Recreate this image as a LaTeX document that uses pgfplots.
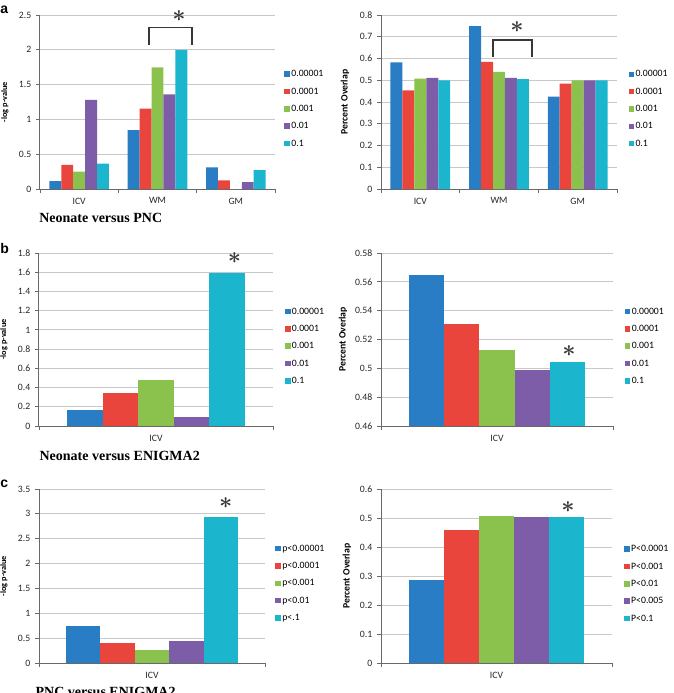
\documentclass[border=0pt]{standalone}
\usepackage{pgfplots}
\pgfplotsset{compat=1.18}
\usepackage{fontspec}
\setmainfont{Carlito}
\newfontfamily\titlefont{Liberation Serif}
\newfontfamily\letterfont{Liberation Sans}

\definecolor{cBlue}{RGB}{40,125,197}
\definecolor{cRed}{RGB}{233,69,60}
\definecolor{cGreen}{RGB}{139,194,78}
\definecolor{cPurple}{RGB}{126,93,168}
\definecolor{cCyan}{RGB}{27,182,205}
\definecolor{gridgray}{RGB}{200,200,200}
\definecolor{axisgray}{RGB}{105,105,105}
\definecolor{markgray}{RGB}{55,55,55}

\pgfplotsset{
  panel/.style={
    scale only axis, anchor=south west,
    axis x line*=bottom, axis y line*=left,
    axis line style={axisgray, line width=0.75pt},
    ymajorgrids, grid style={gridgray, line width=0.6pt},
    tick align=outside, major tick length=3pt,
    tick style={axisgray, line width=0.6pt},
    ticklabel style={font=\fontsize{7.3}{8}\selectfont, text=black!85},
    /pgf/number format/assume math mode=true,
    yticklabel style={/pgf/number format/fixed, /pgf/number format/precision=2},
    xticklabels={},
    extra x tick style={xtick style={draw=none}},
    enlargelimits=false,
    clip mode=individual,
    legend cell align=left,
    legend style={draw=none, fill=none, inner sep=0pt, anchor=west,
      font=\fontsize{7.3}{8}\selectfont, row sep=3pt,
      nodes={inner xsep=1pt, inner ysep=2pt, text height=5pt, text depth=1pt}},
  },
  pvalue/.style={ylabel={-log p-value},
    ylabel style={at={(axis description cs:#1,0.5)}, anchor=center,
      font=\fontsize{6.2}{7}\selectfont\bfseries}},
  overlap/.style={ylabel={Percent Overlap},
    ylabel style={at={(axis description cs:#1,0.5)}, anchor=center,
      font=\fontsize{7.3}{8}\selectfont\bfseries}},
  bars/.style={ybar, bar width=0.152, bar shift=0pt, draw=none, fill=#1,
    legend image code/.code={\fill[##1, draw=none] (0pt,-2.1pt) rectangle (4.2pt,2.1pt);}},
}

% significance asterisk above a bar
\newcommand{\signif}[1]{\node[markgray, inner sep=0pt, font=\fontsize{18}{18}\selectfont\boldmath] at (#1) {$\ast$};}

\begin{document}
\begin{tikzpicture}
\useasboundingbox (0pt,0pt) rectangle (505.5pt,-519.75pt);

% ---------------- a: Neonate versus PNC ----------------
\begin{axis}[panel, pvalue=-0.149,
  at={(30pt,-141.75pt)}, width=176.25pt, height=130.5pt,
  xmin=-0.5, xmax=2.5, ymin=0, ymax=2.5,
  ytick={0,0.5,1,1.5,2,2.5},
  xtick={-0.5,0.5,1.5,2.5},
  extra x ticks={0,1,2}, extra x tick labels={ICV,WM,GM},
  legend style={at={(1.039,0.46)}}]
\addplot[bars=cBlue]   coordinates {(-0.304,0.115) (0.696,0.845) (1.696,0.31)};
\addplot[bars=cRed]    coordinates {(-0.152,0.345) (0.848,1.156) (1.848,0.125)};
\addplot[bars=cGreen]  coordinates {(0,0.25) (1,1.747) (2,0)};
\addplot[bars=cPurple] coordinates {(0.152,1.28) (1.152,1.358) (2.152,0.10)};
\addplot[bars=cCyan]   coordinates {(0.304,0.365) (1.304,2.0) (2.304,0.27)};
\legend{0.00001,0.0001,0.001,0.01,0.1}
\draw[markgray, line width=1.3pt] (axis cs:0.891,2.07) |- (axis cs:1.437,2.32) -- (axis cs:1.437,2.07);
\signif{axis cs:1.274,2.48}
\end{axis}

\begin{axis}[panel, overlap=-0.153,
  at={(285.75pt,-141.75pt)}, width=177pt, height=130.5pt,
  xmin=-0.5, xmax=2.5, ymin=0, ymax=0.8,
  ytick={0,0.1,0.2,0.3,0.4,0.5,0.6,0.7,0.8},
  xtick={-0.5,0.5,1.5,2.5},
  extra x ticks={0,1,2}, extra x tick labels={ICV,WM,GM},
  legend style={at={(1.048,0.46)}}]
\addplot[bars=cBlue]   coordinates {(-0.304,0.582) (0.696,0.749) (1.696,0.425)};
\addplot[bars=cRed]    coordinates {(-0.152,0.454) (0.848,0.585) (1.848,0.485)};
\addplot[bars=cGreen]  coordinates {(0,0.508) (1,0.538) (2,0.500)};
\addplot[bars=cPurple] coordinates {(0.152,0.511) (1.152,0.511) (2.152,0.500)};
\addplot[bars=cCyan]   coordinates {(0.304,0.500) (1.304,0.505) (2.304,0.500)};
\legend{0.00001,0.0001,0.001,0.01,0.1}
\draw[markgray, line width=1.3pt] (axis cs:0.92,0.607) |- (axis cs:1.416,0.685) -- (axis cs:1.416,0.607);
\signif{axis cs:1.229,0.745}
\end{axis}

% ---------------- b: Neonate versus ENIGMA2 ----------------
\begin{axis}[panel, pvalue=-0.15,
  at={(29.25pt,-319.5pt)}, width=175.5pt, height=129.75pt,
  xmin=-0.5, xmax=0.5, ymin=0, ymax=1.8,
  ytick={0,0.2,0.4,0.6,0.8,1,1.2,1.4,1.6,1.8},
  xtick={-0.5,0.5},
  extra x ticks={0}, extra x tick labels={ICV},
  legend style={at={(1.05,0.461)}}]
\addplot[bars=cBlue]   coordinates {(-0.304,0.17)};
\addplot[bars=cRed]    coordinates {(-0.152,0.34)};
\addplot[bars=cGreen]  coordinates {(0,0.478)};
\addplot[bars=cPurple] coordinates {(0.152,0.097)};
\addplot[bars=cCyan]   coordinates {(0.304,1.589)};
\legend{0.00001,0.0001,0.001,0.01,0.1}
\signif{axis cs:0.335,1.745}
\end{axis}

\begin{axis}[panel, overlap=-0.164,
  at={(285.75pt,-319.5pt)}, width=174pt, height=129.75pt,
  xmin=-0.5, xmax=0.5, ymin=0.46, ymax=0.58,
  ytick={0.46,0.48,0.5,0.52,0.54,0.56,0.58},
  xtick={-0.5,0.5},
  extra x ticks={0}, extra x tick labels={ICV},
  legend style={at={(1.05,0.462)}}]
\addplot[bars=cBlue]   coordinates {(-0.304,0.565)};
\addplot[bars=cRed]    coordinates {(-0.152,0.5307)};
\addplot[bars=cGreen]  coordinates {(0,0.5127)};
\addplot[bars=cPurple] coordinates {(0.152,0.4987)};
\addplot[bars=cCyan]   coordinates {(0.304,0.5044)};
\legend{0.00001,0.0001,0.001,0.01,0.1}
\signif{axis cs:0.31,0.512}
\end{axis}

% ---------------- c: PNC versus ENIGMA2 ----------------
\begin{axis}[panel, pvalue=-0.155,
  at={(29.25pt,-497.25pt)}, width=169.5pt, height=130.5pt,
  xmin=-0.5, xmax=0.5, ymin=0, ymax=3.5,
  ytick={0,0.5,1,1.5,2,2.5,3,3.5},
  xtick={-0.5,0.5},
  extra x ticks={0}, extra x tick labels={ICV},
  legend style={at={(1.045,0.458)}}]
\addplot[bars=cBlue]   coordinates {(-0.304,0.739)};
\addplot[bars=cRed]    coordinates {(-0.152,0.403)};
\addplot[bars=cGreen]  coordinates {(0,0.255)};
\addplot[bars=cPurple] coordinates {(0.152,0.443)};
\addplot[bars=cCyan]   coordinates {(0.304,2.935)};
\legend{p<0.00001,p<0.0001,p<0.001,p<0.01,p<.1}
\signif{axis cs:0.326,3.21}
\end{axis}

\begin{axis}[panel, overlap=-0.147,
  at={(285.75pt,-497.25pt)}, width=173.25pt, height=130.5pt,
  xmin=-0.5, xmax=0.5, ymin=0, ymax=0.6,
  ytick={0,0.1,0.2,0.3,0.4,0.5,0.6},
  xtick={-0.5,0.5},
  extra x ticks={0}, extra x tick labels={ICV},
  legend style={at={(1.052,0.455)}}]
\addplot[bars=cBlue]   coordinates {(-0.304,0.285)};
\addplot[bars=cRed]    coordinates {(-0.152,0.458)};
\addplot[bars=cGreen]  coordinates {(0,0.5075)};
\addplot[bars=cPurple] coordinates {(0.152,0.503)};
\addplot[bars=cCyan]   coordinates {(0.304,0.505)};
\legend{P<0.0001,P<0.001,P<0.01,P<0.005,P<0.1}
\signif{axis cs:0.31,0.539}
\end{axis}

% panel letters and group titles
\node[anchor=base west, inner sep=0pt, font=\letterfont\bfseries\fontsize{10.5}{12}\selectfont] at (0pt,-10pt) {a};
\node[anchor=base west, inner sep=0pt, font=\letterfont\bfseries\fontsize{10.5}{12}\selectfont] at (0pt,-190pt) {b};
\node[anchor=base west, inner sep=0pt, font=\letterfont\bfseries\fontsize{10.5}{12}\selectfont] at (0pt,-365.5pt) {c};
\node[anchor=base west, inner sep=0pt, font=\titlefont\bfseries\fontsize{10.5}{12}\selectfont] at (29.25pt,-167pt) {Neonate versus PNC};
\node[anchor=base west, inner sep=0pt, font=\titlefont\bfseries\fontsize{10.5}{12}\selectfont] at (29.5pt,-345pt) {Neonate versus ENIGMA2};
\node[anchor=base west, inner sep=0pt, font=\titlefont\bfseries\fontsize{10.5}{12}\selectfont] at (26.5pt,-522pt) {PNC versus ENIGMA2};
\end{tikzpicture}
\end{document}
